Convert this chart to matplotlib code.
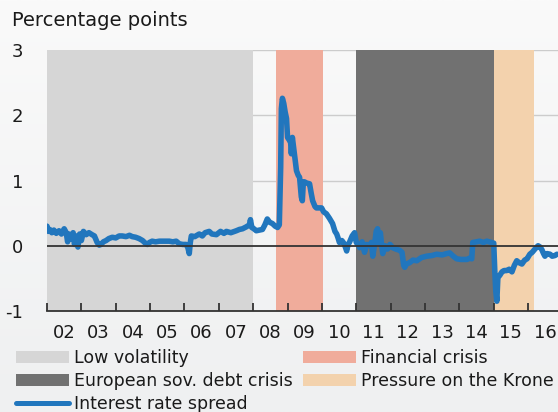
import numpy as np
import matplotlib
matplotlib.use("Agg")
import matplotlib.pyplot as plt
from matplotlib.patches import Patch
from matplotlib.lines import Line2D
from matplotlib.colors import LinearSegmentedColormap

# ---------------- data ----------------
years = [2002.00, 2002.04, 2002.08, 2002.14, 2002.20, 2002.27, 2002.35, 2002.42, 2002.50, 2002.56,
         2002.60, 2002.64, 2002.70, 2002.76, 2002.80, 2002.86, 2002.90, 2002.95, 2003.00, 2003.06,
         2003.14, 2003.22, 2003.31, 2003.38, 2003.46, 2003.52, 2003.57, 2003.64, 2003.72, 2003.80,
         2003.90, 2004.00, 2004.10, 2004.19, 2004.30, 2004.40, 2004.48, 2004.58, 2004.68, 2004.78,
         2004.86, 2004.92, 2004.98, 2005.06, 2005.16, 2005.27, 2005.40, 2005.56, 2005.66, 2005.76,
         2005.85, 2005.95, 2006.05, 2006.10, 2006.14, 2006.17, 2006.20, 2006.30, 2006.43, 2006.52,
         2006.60, 2006.72, 2006.80, 2006.93, 2007.05, 2007.15, 2007.22, 2007.35, 2007.51, 2007.60,
         2007.69, 2007.80, 2007.89, 2007.92, 2007.96, 2008.02, 2008.09, 2008.18, 2008.27, 2008.34,
         2008.41, 2008.48, 2008.56, 2008.64, 2008.71, 2008.76, 2008.80, 2008.82, 2008.85, 2008.89,
         2008.93, 2008.97, 2009.00, 2009.05, 2009.09, 2009.11, 2009.14, 2009.20, 2009.26, 2009.31,
         2009.35, 2009.40, 2009.43, 2009.46, 2009.49, 2009.56, 2009.64, 2009.69, 2009.73, 2009.80,
         2009.84, 2009.92, 2009.99, 2010.05, 2010.13, 2010.22, 2010.31, 2010.38, 2010.43, 2010.47,
         2010.51, 2010.58, 2010.65, 2010.72, 2010.76, 2010.80, 2010.88, 2010.95, 2011.00, 2011.05,
         2011.10, 2011.17, 2011.24, 2011.30, 2011.39, 2011.44, 2011.48, 2011.54, 2011.58, 2011.62,
         2011.66, 2011.70, 2011.74, 2011.77, 2011.84, 2011.91, 2011.98, 2012.06, 2012.15, 2012.26,
         2012.33, 2012.38, 2012.41, 2012.46, 2012.55, 2012.65, 2012.76, 2012.90, 2013.05, 2013.20,
         2013.34, 2013.50, 2013.63, 2013.72, 2013.80, 2013.92, 2014.05, 2014.22, 2014.30, 2014.36,
         2014.39, 2014.50, 2014.59, 2014.70, 2014.80, 2014.94, 2015.00, 2015.03, 2015.06, 2015.09,
         2015.12, 2015.18, 2015.24, 2015.30, 2015.38, 2015.45, 2015.53, 2015.60, 2015.67, 2015.74,
         2015.82, 2015.90, 2015.97, 2016.05, 2016.12, 2016.20, 2016.29, 2016.35, 2016.40, 2016.45,
         2016.49, 2016.55, 2016.64, 2016.70, 2016.78, 2016.84]
spread = [0.30, 0.22, 0.25, 0.20, 0.24, 0.19, 0.23, 0.18, 0.26, 0.20,
          0.06, 0.18, 0.10, 0.20, 0.02, 0.15, -0.02, 0.18, 0.08, 0.22,
          0.17, 0.20, 0.17, 0.15, 0.05, 0.01, 0.02, 0.06, 0.08, 0.11,
          0.13, 0.12, 0.15, 0.15, 0.14, 0.16, 0.14, 0.13, 0.11, 0.08,
          0.04, 0.02, 0.05, 0.07, 0.06, 0.07, 0.07, 0.07, 0.06, 0.07,
          0.03, 0.02, 0.02, -0.03, -0.12, 0.05, 0.15, 0.14, 0.18, 0.15,
          0.20, 0.22, 0.18, 0.17, 0.22, 0.19, 0.22, 0.20, 0.23, 0.25,
          0.26, 0.29, 0.32, 0.40, 0.28, 0.26, 0.23, 0.24, 0.25, 0.32,
          0.41, 0.36, 0.34, 0.30, 0.28, 0.32, 1.20, 2.10, 2.26, 2.18,
          2.05, 1.95, 1.66, 1.62, 1.58, 1.41, 1.66, 1.40, 1.15, 1.08,
          1.05, 0.75, 0.69, 0.98, 0.98, 0.96, 0.95, 0.80, 0.69, 0.60,
          0.58, 0.58, 0.58, 0.52, 0.49, 0.42, 0.34, 0.22, 0.18, 0.12,
          0.05, 0.08, 0.03, -0.08, 0.02, 0.05, 0.15, 0.20, 0.05, 0.02,
          -0.03, 0.06, -0.10, 0.02, 0.00, 0.05, -0.16, 0.05, 0.22, 0.26,
          0.05, 0.20, 0.00, -0.12, 0.00, -0.05, 0.02, -0.03, -0.05, -0.07,
          -0.10, -0.30, -0.33, -0.28, -0.26, -0.22, -0.23, -0.18, -0.16, -0.15,
          -0.13, -0.14, -0.12, -0.11, -0.15, -0.20, -0.21, -0.21, -0.19, -0.20,
          0.05, 0.06, 0.07, 0.05, 0.07, 0.05, 0.04, -0.38, -0.70, -0.85,
          -0.49, -0.45, -0.40, -0.38, -0.38, -0.36, -0.40, -0.30, -0.23, -0.26,
          -0.28, -0.22, -0.20, -0.13, -0.10, -0.05, 0.00, -0.02, -0.06, -0.12,
          -0.16, -0.12, -0.13, -0.16, -0.15, -0.13]

period_labels = ["Low volatility", "Financial crisis", "European sov. debt crisis", "Pressure on the Krone"]
period_start = [2002.0, 2008.67, 2011.0, 2015.0]
period_end = [2008.0, 2010.02, 2015.0, 2016.16]
period_colors = ["#d6d6d6", "#f0ac9b", "#717171", "#f3d2ad"]

tick_years = list(range(2002, 2017))
tick_labels = ["02", "03", "04", "05", "06", "07", "08", "09", "10", "11", "12", "13", "14", "15", "16"]

line_label = "Interest rate spread"
line_color = "#2176bd"

# ---------------- figure ----------------
W, H = 558, 412
plt.rcParams['font.family'] = ['DejaVu Sans']
fig = plt.figure(figsize=(W / 100, H / 100), dpi=100)

# background gradient
bg = fig.add_axes([0, 0, 1, 1], zorder=-10)
grad = np.linspace(0, 1, 256).reshape(-1, 1)
cmap = LinearSegmentedColormap.from_list("bg", ["#fafafa", "#eff0f1"])
bg.imshow(grad, aspect="auto", cmap=cmap, extent=[0, 1, 0, 1])
bg.axis("off")

ax = fig.add_axes([47 / W, 1 - 311 / H, 1 - 47 / W, (311 - 50) / H])
ax.set_facecolor("none")

for s, e, c in zip(period_start, period_end, period_colors):
    ax.axvspan(s, e, color=c, lw=0, zorder=1)

for yv in [1, 2, 3]:
    ax.axhline(yv, color="#cccccc", lw=1.0, zorder=0.5)

ax.plot(years, spread, color=line_color, lw=4.0, solid_joinstyle="round", solid_capstyle="round", zorder=3)
ax.axhline(0, color="#333333", lw=1.3, zorder=4)

ax.set_xlim(2002.0, 2016.87)
ax.set_ylim(-1, 3)
ax.set_yticks([-1, 0, 1, 2, 3])
ax.set_yticklabels(["-1", "0", "1", "2", "3"])
ax.tick_params(axis="y", length=0, pad=17, labelsize=13, colors="#1a1a1a")

ax.set_xticks(tick_years)
ax.set_xticklabels([])
ax.set_xticks([y + 0.5 for y in tick_years], minor=True)
ax.set_xticklabels(tick_labels, minor=True)
ax.tick_params(axis="x", which="major", direction="in", length=6, width=1.3, color="#333333")
ax.tick_params(axis="x", which="minor", length=0, pad=9, labelsize=13, colors="#1a1a1a")

for sp in ["left", "right", "top"]:
    ax.spines[sp].set_visible(False)
ax.spines["bottom"].set_color("#333333")
ax.spines["bottom"].set_linewidth(1.3)
ax.spines["bottom"].set_zorder(5)

fig.text(12 / W, 1 - 20 / H, "Percentage points", fontsize=14, va="center", ha="left", color="#1a1a1a")

handles = [Patch(facecolor=period_colors[0], edgecolor="none", label=period_labels[0]),
           Patch(facecolor=period_colors[2], edgecolor="none", label=period_labels[2]),
           Line2D([0], [0], color=line_color, lw=3.6, solid_capstyle="round", label=line_label),
           Patch(facecolor=period_colors[1], edgecolor="none", label=period_labels[1]),
           Patch(facecolor=period_colors[3], edgecolor="none", label=period_labels[3])]
fig.legend(handles=handles, ncol=2, loc="upper left", bbox_to_anchor=(16 / W, 1 - 349 / H),
           frameon=False, fontsize=12.5, handlelength=3.05, handleheight=0.65, handletextpad=0.3,
           labelspacing=0.3, columnspacing=0.6, borderpad=0, borderaxespad=0,
           labelcolor="#1a1a1a")

fig.savefig("out.png", dpi=100)
